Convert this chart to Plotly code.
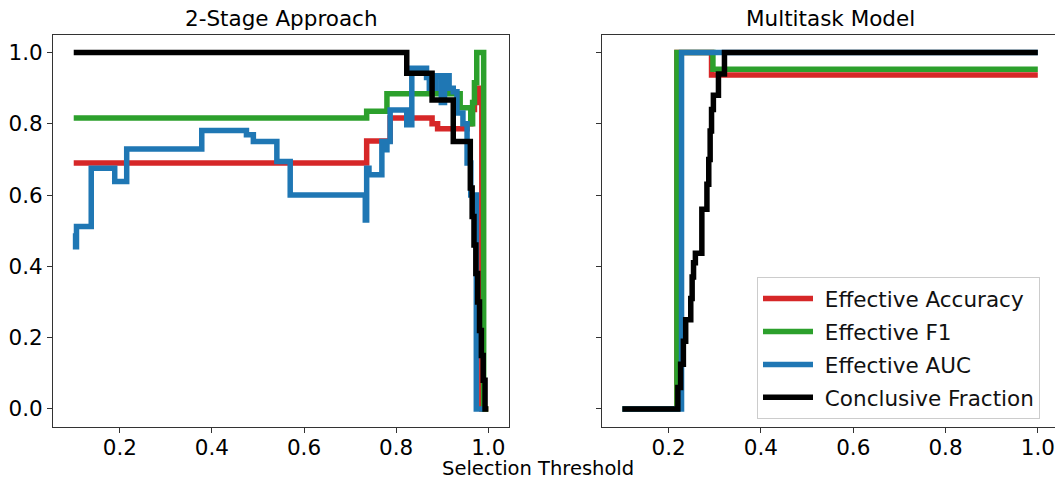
import plotly.graph_objects as go

# ---------------- data ----------------
series_names = ["Effective Accuracy", "Effective F1", "Effective AUC", "Conclusive Fraction"]
series_colors = ["#d62728", "#2ca02c", "#1f77b4", "#000000"]

# 2-Stage Approach
two_acc_x = [0.1, 0.736, 0.787, 0.878, 0.89, 0.954, 0.962, 0.97, 0.977, 0.986, 1.0]
two_acc_y = [0.69, 0.752, 0.816, 0.80, 0.786, 0.80, 0.84, 0.86, 0.90, 0.0, 0.0]

two_f1_x = [0.1, 0.736, 0.78, 0.939, 0.962, 0.966, 0.970, 0.975, 0.99, 1.0]
two_f1_y = [0.816, 0.835, 0.884, 0.845, 0.80, 0.86, 0.915, 1.0, 0.0, 0.0]

two_auc_x = [0.1, 0.104, 0.106, 0.138, 0.189, 0.215, 0.378, 0.475, 0.49, 0.541, 0.57,
             0.733, 0.736, 0.741, 0.769, 0.775, 0.78, 0.787, 0.823, 0.834, 0.866, 0.872,
             0.886, 0.898, 0.905, 0.915, 0.924, 0.932, 0.945, 0.954, 0.962, 0.974, 0.99]
two_auc_y = [0.493, 0.455, 0.512, 0.675, 0.638, 0.729, 0.781, 0.769, 0.75, 0.694, 0.60,
             0.53, 0.675, 0.657, 0.75, 0.727, 0.75, 0.839, 0.797, 0.956, 0.93, 0.90,
             0.935, 0.86, 0.935, 0.90, 0.89, 0.83, 0.80, 0.69, 0.60, 0.0, 0.0]

two_frac_x = [0.1, 0.823, 0.878, 0.924, 0.961, 0.965, 0.969, 0.973, 0.977, 0.981, 0.985,
              0.989, 0.993, 1.0]
two_frac_y = [1.0, 0.942, 0.867, 0.75, 0.62, 0.54, 0.46, 0.38, 0.30, 0.22, 0.15,
              0.08, 0.0, 0.0]

# Multitask Model
mt_acc_x = [0.1, 0.218, 0.293, 1.0]
mt_acc_y = [0.0, 1.0, 0.937, 0.937]

mt_f1_x = [0.1, 0.218, 0.296, 1.0]
mt_f1_y = [0.0, 1.0, 0.953, 0.953]

mt_auc_x = [0.1, 0.228, 1.0]
mt_auc_y = [0.0, 1.0, 1.0]

mt_frac_x = [0.1, 0.22, 0.226, 0.232, 0.237, 0.248, 0.251, 0.254, 0.258, 0.272, 0.283,
             0.287, 0.290, 0.293, 0.297, 0.308, 0.321, 1.0]
mt_frac_y = [0.0, 0.06, 0.125, 0.19, 0.25, 0.31, 0.37, 0.41, 0.437, 0.56, 0.63,
             0.70, 0.78, 0.84, 0.88, 0.94, 1.0, 1.0]

tick_vals = [0.0, 0.2, 0.4, 0.6, 0.8, 1.0]
x_tick_vals = [0.2, 0.4, 0.6, 0.8, 1.0]

titles = ["2-Stage Approach", "Multitask Model"]
x_label = "Selection Threshold"

# ---------------- figure ----------------
FONT = "DejaVu Sans"
FS = 21.5
W, H = 1055, 480
LW = 5.5

fig = go.Figure()

left = [(two_acc_x, two_acc_y), (two_f1_x, two_f1_y), (two_auc_x, two_auc_y), (two_frac_x, two_frac_y)]
right = [(mt_acc_x, mt_acc_y), (mt_f1_x, mt_f1_y), (mt_auc_x, mt_auc_y), (mt_frac_x, mt_frac_y)]

for i, (name, col) in enumerate(zip(series_names, series_colors)):
    fig.add_trace(go.Scatter(x=left[i][0], y=left[i][1], mode="lines", name="\u00a0" + name,
                             line=dict(color=col, width=LW, shape="hv"),
                             legendgroup=name, showlegend=False,
                             xaxis="x", yaxis="y"))
for i, (name, col) in enumerate(zip(series_names, series_colors)):
    fig.add_trace(go.Scatter(x=right[i][0], y=right[i][1], mode="lines", name="\u00a0" + name,
                             line=dict(color=col, width=LW, shape="hv"),
                             legendgroup=name, showlegend=True,
                             xaxis="x2", yaxis="y2"))

axis_common = dict(showgrid=False, zeroline=False, showline=True, linecolor="#333333",
                   linewidth=1, ticks="outside", ticklen=5, tickwidth=1, tickcolor="#333333",
                   tickfont=dict(family=FONT, size=FS, color="black"))

y_dom = [1 - 426.7 / H, 1 - 34.7 / H]
fig.update_layout(
    width=W, height=H,
    margin=dict(l=0, r=0, t=0, b=0),
    paper_bgcolor="white", plot_bgcolor="white",
    xaxis=dict(domain=[53 / W, 509 / W], range=[0.055, 1.045], tickvals=x_tick_vals,
               tickformat=".1f", mirror=True, anchor="y", ticklabelstandoff=-4, **axis_common),
    yaxis=dict(domain=y_dom, range=[-0.05, 1.05], tickvals=tick_vals, tickformat=".1f",
               mirror=True, anchor="x", **axis_common),
    xaxis2=dict(domain=[601.7 / W, 1.0], range=[0.055, 0.055 + (W - 601.7) / 461.5],
                tickvals=x_tick_vals, tickformat=".1f", mirror=True, anchor="y2",
                ticklabelstandoff=-4, **axis_common),
    yaxis2=dict(domain=y_dom, range=[-0.05, 1.05], tickvals=tick_vals, showticklabels=False,
                mirror=False, anchor="x2", matches="y", **axis_common),
    legend=dict(x=757 / W, y=1 - 277 / H, xanchor="left", yanchor="top",
                bgcolor="white", bordercolor="#cccccc", borderwidth=1,
                font=dict(family=FONT, size=FS, color="#111111"),
                tracegroupgap=2, itemwidth=50),
    showlegend=True,
)

fig.add_annotation(text=titles[0], xref="x domain", yref="y domain", x=0.5, y=1,
                   xanchor="center", yanchor="bottom", yshift=2, showarrow=False,
                   font=dict(family=FONT, size=FS, color="black"))
fig.add_annotation(text=titles[1], xref="paper", yref="y2 domain", x=830 / W, y=1,
                   xanchor="center", yanchor="bottom", yshift=2, showarrow=False,
                   font=dict(family=FONT, size=FS, color="black"))
fig.add_annotation(text=x_label, xref="paper", yref="paper", x=538 / W, y=0,
                   xanchor="center", yanchor="bottom", yshift=-2, showarrow=False,
                   font=dict(family=FONT, size=19.5, color="black"))

fig.write_html("out.html", config={"displayModeBar": False},
               post_script="document.body.style.margin='0px';document.body.style.overflow='hidden';")
